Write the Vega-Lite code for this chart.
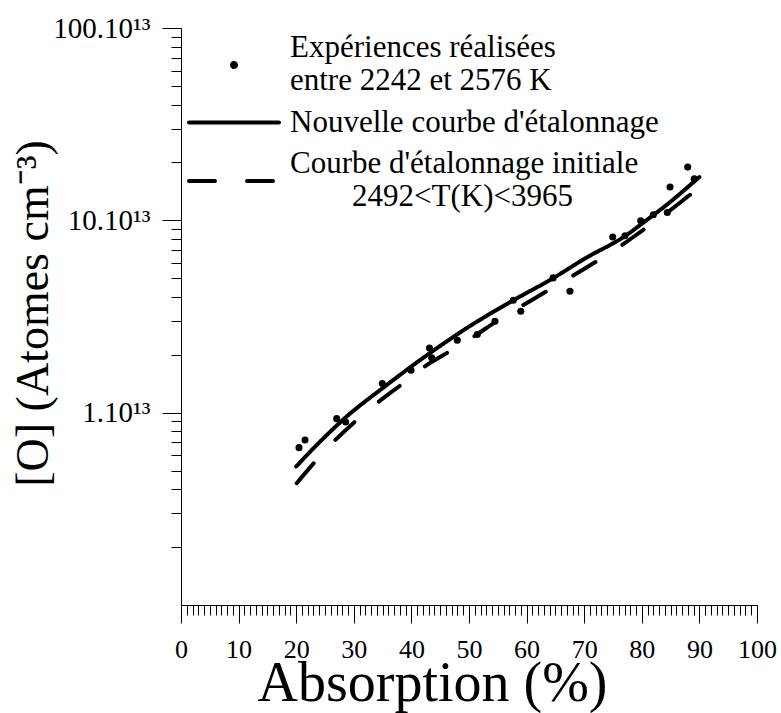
{
  "$schema": "https://vega.github.io/schema/vega-lite/v6.json",
  "width": 576,
  "height": 577,
  "autosize": {"type": "none"},
  "padding": {"left": 181, "top": 28, "right": 24, "bottom": 108},
  "background": "white",
  "config": {
    "view": {"stroke": null},
    "font": "Liberation Serif",
    "axis": {
      "grid": false,
      "domainColor": "black",
      "tickColor": "black",
      "labelColor": "black",
      "titleColor": "black",
      "labelFont": "Liberation Serif",
      "titleFont": "Liberation Serif",
      "titleFontWeight": "normal",
      "domainWidth": 1,
      "tickWidth": 1,
      "labelFlush": false,
      "labelOverlap": false,
      "labelBound": false
    }
  },
  "data": {
    "values": [
      {"series": "exp", "x": 20.49, "O": 6.58e12},
      {"series": "exp", "x": 21.53, "O": 7.21e12},
      {"series": "exp", "x": 27.03, "O": 9.31e12},
      {"series": "exp", "x": 28.59, "O": 8.94e12},
      {"series": "exp", "x": 34.95, "O": 1.419e13},
      {"series": "exp", "x": 39.93, "O": 1.664e13},
      {"series": "exp", "x": 43.14, "O": 2.169e13},
      {"series": "exp", "x": 43.52, "O": 1.929e13},
      {"series": "exp", "x": 47.97, "O": 2.381e13},
      {"series": "exp", "x": 51.44, "O": 2.548e13},
      {"series": "exp", "x": 54.51, "O": 2.987e13},
      {"series": "exp", "x": 57.69, "O": 3.84e13},
      {"series": "exp", "x": 58.99, "O": 3.366e13},
      {"series": "exp", "x": 64.6, "O": 5.02e13},
      {"series": "exp", "x": 67.53, "O": 4.276e13},
      {"series": "exp", "x": 74.95, "O": 8.19e13},
      {"series": "exp", "x": 77.08, "O": 8.32e13},
      {"series": "exp", "x": 79.81, "O": 9.95e13},
      {"series": "exp", "x": 82.0, "O": 1.069e14},
      {"series": "exp", "x": 84.43, "O": 1.099e14},
      {"series": "exp", "x": 84.9, "O": 1.489e14},
      {"series": "exp", "x": 87.97, "O": 1.891e14},
      {"series": "exp", "x": 89.11, "O": 1.644e14},
      {"series": "new", "x": 20, "O": 5.25e12},
      {"series": "new", "x": 24, "O": 7.0e12},
      {"series": "new", "x": 28.5, "O": 9.4e12},
      {"series": "new", "x": 35.4, "O": 1.37e13},
      {"series": "new", "x": 43, "O": 2.02e13},
      {"series": "new", "x": 50, "O": 2.8e13},
      {"series": "new", "x": 57.7, "O": 3.84e13},
      {"series": "new", "x": 64.6, "O": 5.0e13},
      {"series": "new", "x": 70, "O": 6.3e13},
      {"series": "new", "x": 77.4, "O": 8.4e13},
      {"series": "new", "x": 80, "O": 9.6e13},
      {"series": "new", "x": 84.4, "O": 1.21e14},
      {"series": "new", "x": 90, "O": 1.68e14},
      {"series": "init", "x": 20.09, "O": 4.30e12},
      {"series": "init", "x": 23.39, "O": 5.61e12},
      {"series": "init", "x": 26.74, "O": 7.18e12},
      {"series": "init", "x": 30.5, "O": 9.15e12},
      {"series": "init", "x": 34.25, "O": 1.135e13},
      {"series": "init", "x": 38.32, "O": 1.403e13},
      {"series": "init", "x": 42.24, "O": 1.733e13},
      {"series": "init", "x": 46.7, "O": 2.088e13},
      {"series": "init", "x": 50.75, "O": 2.48e13},
      {"series": "init", "x": 54.81, "O": 2.99e13},
      {"series": "init", "x": 63.49, "O": 4.28e13},
      {"series": "init", "x": 71.88, "O": 6.05e13},
      {"series": "init", "x": 76.22, "O": 7.32e13},
      {"series": "init", "x": 80.26, "O": 8.93e13},
      {"series": "init", "x": 84.32, "O": 1.091e14},
      {"series": "init", "x": 88.37, "O": 1.358e14}
    ]
  },
  "resolve": {"axis": {"x": "independent", "y": "independent"}},
  "layer": [
    {
      "transform": [{"filter": "datum.series != 'exp'"}],
      "mark": {"type": "line", "color": "black", "strokeWidth": 4, "interpolate": "monotone", "strokeCap": "round"},
      "encoding": {
        "x": {
          "field": "x", "type": "quantitative",
          "scale": {"domain": [0, 100], "nice": false, "zero": false},
          "axis": {
            "orient": "bottom", "title": null, "labels": false, "domain": false, "tickSize": 10,
            "values": [0,1,2,3,4,5,6,7,8,9,10,11,12,13,14,15,16,17,18,19,20,21,22,23,24,25,26,27,28,29,30,31,32,33,34,35,36,37,38,39,40,41,42,43,44,45,46,47,48,49,50,51,52,53,54,55,56,57,58,59,60,61,62,63,64,65,66,67,68,69,70,71,72,73,74,75,76,77,78,79,80,81,82,83,84,85,86,87,88,89,90,91,92,93,94,95,96,97,98,99,100]
          }
        },
        "y": {
          "field": "O", "type": "quantitative",
          "scale": {"type": "log", "domain": [1e12, 1e15], "nice": false},
          "axis": {
            "orient": "left", "title": null, "labels": false, "domain": false, "tickSize": 10,
            "values": [2e12,3e12,4e12,5e12,6e12,7e12,8e12,9e12,2e13,3e13,4e13,5e13,6e13,7e13,8e13,9e13,2e14,3e14,4e14,5e14,6e14,7e14,8e14,9e14]
          }
        },
        "strokeDash": {
          "field": "series", "type": "nominal",
          "scale": {"domain": ["exp", "new", "init"], "range": [[1, 0], [1, 0], [26, 32]]},
          "legend": {
            "orient": "none",
            "legendX": 8,
            "legendY": 3,
            "title": null,
            "padding": 0,
            "symbolType": "M-3,0H3",
            "symbolSize": 900,
            "symbolOffset": 28,
            "symbolStrokeWidth": 4,
            "symbolStrokeColor": "black",
            "labelFont": "Liberation Serif",
            "labelFontSize": 31,
            "labelColor": "black",
            "labelOffset": 39,
            "labelLimit": 600,
            "rowPadding": 9.5,
            "labelExpr": "datum.value == 'exp' ? ['Expériences réalisées', 'entre 2242 et 2576 K'] : datum.value == 'new' ? \"Nouvelle courbe d'étalonnage\" : [\"Courbe d'étalonnage initiale\", '\u200b\u00a0\u00a0\u00a0\u00a0\u00a0\u00a0\u00a0\u00a02492<T(K)<3965']",
            "encode": {
              "symbols": {
                "update": {
                  "shape": {"signal": "datum.value == 'exp' ? 'M-0.1333,0A0.1333,0.1333,0,1,0,0.1333,0A0.1333,0.1333,0,1,0,-0.1333,0Z' : 'M-3,0H3'"},
                  "fill": {"signal": "datum.value == 'exp' ? 'black' : 'transparent'"},
                  "stroke": {"value": "black"},
                  "strokeCap": {"value": "round"},
                  "y": {"signal": "datum.value == 'new' ? 17 : 34"}
                }
              }
            }
          }
        }
      }
    },
    {
      "transform": [{"filter": "datum.series == 'exp'"}],
      "mark": {"type": "point", "filled": true, "size": 50, "color": "black", "opacity": 1},
      "encoding": {
        "x": {
          "field": "x", "type": "quantitative",
          "scale": {"domain": [0, 100], "nice": false, "zero": false},
          "axis": {
            "orient": "bottom",
            "values": [0, 10, 20, 30, 40, 50, 60, 70, 80, 90, 100],
            "tickSize": 18,
            "labelFontSize": 26,
            "labelPadding": 13,
            "title": "Absorption (%)",
            "titleFontSize": 56,
            "titleX": 251,
            "titleY": 95,
            "titleAlign": "center",
            "titleBaseline": "alphabetic"
          }
        },
        "y": {
          "field": "O", "type": "quantitative",
          "scale": {"type": "log", "domain": [1e12, 1e15], "nice": false},
          "axis": {
            "orient": "left",
            "values": [1e13, 1e14, 1e15],
            "tickSize": 19,
            "labelFontSize": 29,
            "labelPadding": 12,
            "labelBaseline": "middle",
            "labelExpr": "format(datum.value / 1e13, 'd') + '.10¹³'",
            "title": "[O] (Atomes cm⁻³)",
            "titleFontSize": 46,
            "titleAngle": -90,
            "titleX": -134,
            "titleY": 285,
            "titleAlign": "center",
            "titleBaseline": "alphabetic"
          }
        }
      }
    }
  ]
}
